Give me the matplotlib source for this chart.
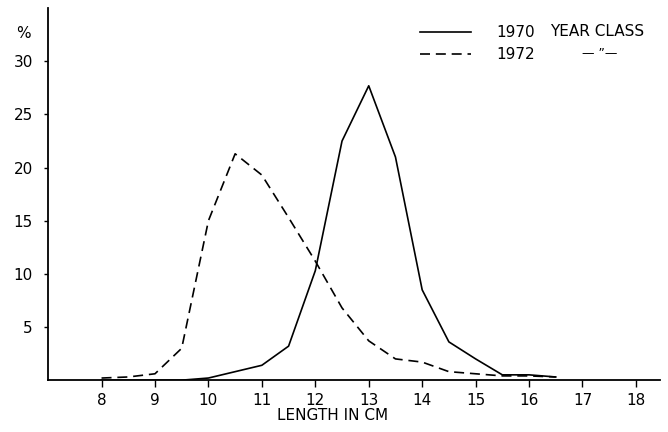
import matplotlib
matplotlib.use("Agg")
import matplotlib.pyplot as plt

plt.rcParams['font.family'] = ['DejaVu Sans']

# length classes (cm) and percentage of each year class
length = [8, 8.5, 9, 9.5, 10, 10.5, 11, 11.5, 12, 12.5, 13, 13.5, 14, 14.5, 15, 15.5, 16, 16.5]
pct_1970 = [0, 0, 0, 0, 0.2, 0.8, 1.4, 3.2, 10.3, 22.5, 27.7, 21.0, 8.5, 3.6, 2.0, 0.5, 0.5, 0.3]
pct_1972 = [0.2, 0.3, 0.6, 3.0, 15.0, 21.3, 19.3, 15.3, 11.2, 6.8, 3.7, 2.0, 1.7, 0.8, 0.6, 0.4, 0.4, 0.3]

xticks = [8, 9, 10, 11, 12, 13, 14, 15, 16, 17, 18]
yticks = [5, 10, 15, 20, 25, 30]

fig = plt.figure(figsize=(6.68, 4.32), dpi=100)
ax = fig.add_axes([0.072, 0.12, 0.916, 0.861])

l1, = ax.plot(length, pct_1970, color='black', lw=1.2)
l2, = ax.plot(length, pct_1972, color='black', lw=1.2, linestyle=(0, (6, 3.5)))

ax.set_xlim(7.0, 18.45)
ax.set_ylim(0, 35)
ax.set_xticks(xticks)
ax.set_yticks(yticks)
ax.tick_params(axis='x', direction='out', length=5, width=1, labelsize=11, pad=4)
ax.tick_params(axis='y', direction='out', length=3, width=1, labelsize=11, pad=8)

for s in ['top', 'right']:
    ax.spines[s].set_visible(False)
for s in ['left', 'bottom']:
    ax.spines[s].set_linewidth(1.3)

ax.text(-0.028, 0.933, '%', transform=ax.transAxes, fontsize=11, ha='right', va='center')

ax.set_xlabel('LENGTH IN CM', fontsize=11)
ax.xaxis.set_label_coords((333 - 48) / 612, -0.075)

leg = ax.legend([l1, l2], ['1970', '1972'], loc='upper left', bbox_to_anchor=(0.596, 0.975),
                frameon=False, fontsize=11, handlelength=3.3, handletextpad=1.7,
                labelspacing=0.45, borderpad=0)
ax.text(0.82, 0.938, 'YEAR CLASS', transform=ax.transAxes, fontsize=11, va='center')
ax.text(0.872, 0.878, '\u2014 \u201d\u2014', transform=ax.transAxes, fontsize=9, va='center')

fig.savefig('out.png', dpi=100)
